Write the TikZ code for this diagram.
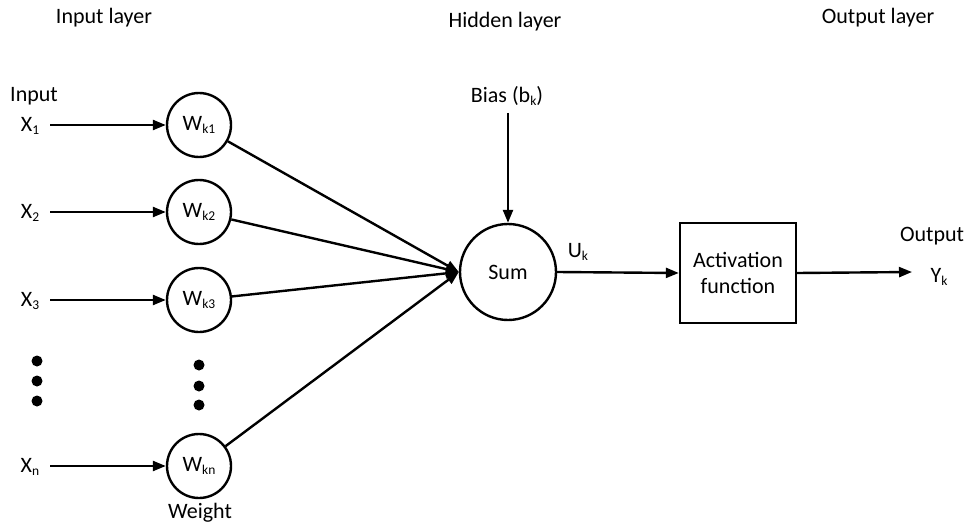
\documentclass[tikz,border=0pt]{standalone}
\usepackage{fontspec}
\setmainfont{Carlito}
\usetikzlibrary{arrows.meta}
\newcommand{\lsub}[1]{\raisebox{-0.12em}{\fontsize{13.5}{14}\selectfont #1}}
\tikzset{
  lbl/.style={font=\fontsize{22}{25}\selectfont, inner sep=0pt},
  wcirc/.style={draw, circle, line width=2.4pt, minimum size=64pt, inner sep=0pt, font=\fontsize{22}{25}\selectfont},
  conn/.style={line width=2.4pt, -{Triangle[length=13pt,width=10pt]}},
  dot/.style={fill, circle, inner sep=0pt, minimum size=11pt}
}
\begin{document}
\begin{tikzpicture}[x=1pt,y=-1pt]
\useasboundingbox (0,0) rectangle (969,524);
% layer titles
\node[lbl] (tin) at (104,18) {Input layer};
\node[lbl] (thid) at (505,22) {Hidden layer};
\node[lbl] (tout) at (878,18) {Output layer};
% inputs
\node[lbl] (inlbl) at (34,96) {Input};
\node[lbl] (x1) at (30,126) {X\lsub{1}};
\node[lbl] (x2) at (30,213) {X\lsub{2}};
\node[lbl] (x3) at (30,301) {X\lsub{3}};
\node[lbl] (xn) at (30,467) {X\lsub{n}};
% weights
\node[wcirc] (w1) at (199,125) {W\lsub{k1}};
\node[wcirc] (w2) at (199,212) {W\lsub{k2}};
\node[wcirc] (w3) at (199,300) {W\lsub{k3}};
\node[wcirc] (wn) at (199,466) {W\lsub{kn}};
\node[lbl] (wlbl) at (200,513) {Weight};
% ellipsis dots
\node[dot] (d1) at (37,361) {};
\node[dot] (d2) at (37,381) {};
\node[dot] (d3) at (37,401) {};
\node[dot] (e1) at (199,365) {};
\node[dot] (e2) at (199,386) {};
\node[dot] (e3) at (199,405) {};
% summation and activation
\node[wcirc, minimum size=96pt] (sum) at (508,272) {Sum};
\node[lbl] (bias) at (507,96) {Bias (b\lsub{k})};
\coordinate (bstart) at (508,113);
\node[draw, line width=2.4pt, minimum width=116pt, minimum height=100pt, inner sep=0pt, align=center, font=\fontsize{22}{26}\selectfont] (act) at (738,273) {Activation\\function};
\node[lbl] (uk) at (578,252) {U\lsub{k}};
\node[lbl] (outlbl) at (932,236) {Output};
\node[lbl] (yk) at (939,277) {Y\lsub{k}};
\coordinate (yend) at (912,272);
% input connectors
\coordinate (a1) at (50,125);
\coordinate (a2) at (50,212);
\coordinate (a3) at (50,300);
\coordinate (an) at (50,466);
\draw[conn] (a1) -- (w1.west);
\draw[conn] (a2) -- (w2.west);
\draw[conn] (a3) -- (w3.west);
\draw[conn] (an) -- (wn.west);
% weighted inputs into the sum
\draw[conn] (w1) -- (sum.west);
\draw[conn] (w2) -- (sum.west);
\draw[conn] (w3) -- (sum.west);
\draw[conn] (wn) -- (sum.west);
% bias, activation and output
\draw[conn] (bstart) -- (sum.north);
\draw[conn] (sum.east) -- (act.west);
\draw[conn] (act.east) -- (yend);
\end{tikzpicture}
\end{document}
